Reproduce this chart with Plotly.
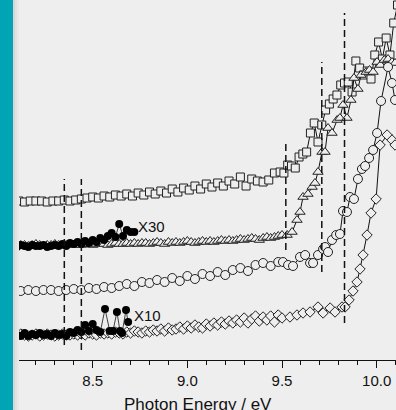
import plotly.graph_objects as go

# ---------------- data (signal in arbitrary units) ----------------
E_sq = [8.08, 8.11, 8.14, 8.17, 8.20, 8.23, 8.26, 8.29, 8.32, 8.35, 8.38, 8.41, 8.44, 8.47,
        8.50, 8.53, 8.56, 8.59, 8.62, 8.65, 8.68, 8.71, 8.74, 8.77, 8.80, 8.83, 8.86, 8.89,
        8.92, 8.95, 8.98, 9.01, 9.04, 9.07, 9.10, 9.13, 9.16, 9.19, 9.22, 9.25, 9.28, 9.31,
        9.34, 9.37, 9.40, 9.43, 9.46, 9.49,
        9.51, 9.53, 9.55, 9.57, 9.59, 9.61, 9.63, 9.65, 9.67, 9.69, 9.71, 9.73, 9.75, 9.77,
        9.79, 9.81, 9.83, 9.85, 9.87, 9.89, 9.91, 9.93, 9.95, 9.97, 9.99, 10.01, 10.03,
        10.05, 10.07, 10.09, 10.11]
sq_vals = [159, 159, 158, 159, 159, 159, 158, 159, 159, 160, 159, 160, 161, 162,
           163, 162, 164, 163, 165, 164, 166, 164, 167, 165, 168, 166, 169, 167,
           171, 168, 172, 170, 174, 171, 176, 173, 177, 174, 179, 176, 183, 174,
           181, 179, 178, 180, 187, 188,
           187, 195, 194, 192, 203, 206, 208, 227, 237, 218, 235, 250, 256, 261,
           265, 275, 277, 278, 268, 299, 292, 285, 289, 281, 305, 318, 301,
           322, 305, 337, 355]

E_tri = [8.08, 8.10, 8.12, 8.14, 8.16, 8.18, 8.20, 8.22, 8.24, 8.26, 8.28, 8.30, 8.32, 8.34,
         8.36, 8.38, 8.40, 8.42, 8.44, 8.46, 8.48, 8.50, 8.52, 8.54, 8.56, 8.58, 8.60, 8.62,
         8.64, 8.66, 8.68, 8.70, 8.72, 8.74, 8.76, 8.78, 8.80, 8.82, 8.84, 8.86, 8.88, 8.90,
         8.92, 8.94, 8.96, 8.98, 9.00, 9.02, 9.04, 9.06, 9.08, 9.10, 9.12, 9.14, 9.16, 9.18,
         9.20, 9.22, 9.24, 9.26, 9.28, 9.30, 9.32, 9.34, 9.36, 9.38, 9.40, 9.42, 9.44, 9.46,
         9.48, 9.50,
         9.527, 9.553, 9.579, 9.595, 9.611, 9.637, 9.659, 9.674, 9.690, 9.711, 9.727, 9.743,
         9.764, 9.791, 9.806, 9.822, 9.843, 9.864, 9.880, 9.901, 9.917, 9.944, 9.962, 9.981,
         10.002, 10.02, 10.04, 10.06, 10.081, 10.097]
tri_vals = [115, 114, 115, 115, 114, 115, 116, 115, 114, 115, 115, 116, 115, 114,
            115, 116, 115, 116, 115, 116, 116, 115, 116, 117, 116, 115, 116, 117,
            116, 116, 117, 116, 117, 116, 117, 117, 116, 117, 118, 117, 116, 118,
            117, 118, 117, 118, 119, 118, 117, 118, 119, 118, 119, 118, 119, 120,
            119, 120, 119, 120, 121, 120, 121, 122, 121, 120, 122, 123, 122, 123,
            124, 125,
            125, 128, 140, 148, 163, 166, 173, 177, 188, 208, 208, 232,
            227, 240, 242, 255, 242, 260, 282, 271, 285, 288, 290, 288,
            298, 295, 300, 301, 298, 297]

E_circ = [8.08, 8.12, 8.16, 8.20, 8.24, 8.28, 8.32, 8.36, 8.40, 8.44, 8.48, 8.52, 8.56, 8.60,
          8.64, 8.68, 8.72, 8.76, 8.80, 8.84, 8.88, 8.92, 8.96, 9.00, 9.04, 9.08, 9.12, 9.16,
          9.20, 9.24, 9.28, 9.32, 9.36, 9.40, 9.44, 9.48,
          9.505, 9.532, 9.558, 9.595, 9.622, 9.648, 9.664, 9.690, 9.717, 9.727, 9.743, 9.764,
          9.786, 9.806, 9.822, 9.843, 9.859, 9.880, 9.901, 9.922, 9.939, 9.960, 9.981, 10.002,
          10.023, 10.060, 10.081, 10.097]
circ_vals = [70, 69, 70, 69, 70, 70, 69, 70, 71, 70, 72, 71, 73, 72,
             74, 76, 74, 78, 77, 80, 78, 82, 79, 84, 81, 86, 84, 88,
             85, 90, 92, 89, 95, 97, 94, 98,
             98, 95, 94, 103, 105, 97, 97, 105, 111, 113, 108, 120,
             125, 126, 149, 148, 163, 161, 181, 191, 194, 202, 210, 227,
             259, 293, 277, 260]

E_dia = [8.08, 8.10, 8.12, 8.14, 8.16, 8.18, 8.20, 8.22, 8.24, 8.26, 8.28, 8.30, 8.32, 8.34,
         8.36, 8.38, 8.40, 8.42, 8.44, 8.46, 8.48, 8.50, 8.52, 8.54, 8.56, 8.58, 8.60, 8.62,
         8.64, 8.66, 8.68, 8.70, 8.72, 8.74, 8.76, 8.78, 8.80, 8.82, 8.84, 8.86, 8.88, 8.90,
         8.92, 8.94, 8.96, 8.98, 9.00, 9.02, 9.04, 9.06, 9.08, 9.10, 9.12, 9.14, 9.16, 9.18,
         9.20, 9.22, 9.24, 9.26, 9.28, 9.30, 9.32, 9.34, 9.36, 9.38, 9.40, 9.42, 9.44, 9.46,
         9.48, 9.50,
         9.542, 9.579, 9.611, 9.648, 9.690, 9.717, 9.754, 9.780, 9.817, 9.833, 9.854, 9.875,
         9.896, 9.912, 9.928, 9.949, 9.970, 9.997, 10.018, 10.055, 10.081, 10.097]
dia_vals = [25, 24, 26, 25, 24, 25, 26, 24, 25, 26, 25, 24, 25, 26, 25, 25,
            26, 25, 26, 25, 27, 26, 25, 27, 26, 27, 26, 28, 27, 26, 28, 27, 29, 28, 27, 29,
            28, 30, 29, 31, 29, 32, 30, 31, 33, 31, 34, 32, 35, 33, 32, 36, 34, 37, 35, 38,
            36, 39, 37, 40, 38, 42, 37, 41, 44, 39, 43, 40, 44, 38, 45, 42,
            43, 45, 47, 48, 53, 47, 52, 48, 53, 53, 60, 69,
            78, 91, 105, 125, 147, 161, 215, 225, 220, 215]

# magnified (filled) curves
E_x30 = [8.08, 8.10, 8.12, 8.14, 8.16, 8.18, 8.20, 8.22, 8.24, 8.26, 8.28, 8.30, 8.32, 8.34,
         8.36, 8.38, 8.40, 8.42, 8.44, 8.46, 8.48, 8.50, 8.52, 8.54, 8.56, 8.58, 8.60, 8.62,
         8.64, 8.66, 8.68, 8.70, 8.72]
x30_vals = [114, 113, 115, 114, 113, 115, 114, 114, 115, 113, 114, 115, 114, 116,
            114, 117, 116, 118, 116, 119, 117, 120, 118, 122, 120, 124, 127, 123,
            136, 124, 130, 128, 128]

E_x10 = [8.08, 8.10, 8.12, 8.14, 8.16, 8.18, 8.20, 8.22, 8.24, 8.26, 8.28, 8.30, 8.32, 8.34,
         8.36, 8.38, 8.40, 8.42, 8.44, 8.46, 8.48, 8.50, 8.52, 8.54,
         8.565, 8.59, 8.607, 8.628, 8.644, 8.655, 8.676, 8.687]
x10_vals = [28, 25, 24, 27, 24, 26, 25, 27, 25, 26, 24, 27, 25, 26, 24, 28, 27, 30, 28, 35,
            29, 36, 30, 28,
            51, 29, 29, 48, 29, 27, 50, 38]

# onset markers (dashed lines)
onset_E = [8.35, 8.44, 9.52, 9.71, 9.83]
onset_top = [181, 181, 217, 298, 347]
onset_bottom = [15, 10, 110, 88, 37]

labels = ["X30", "X10"]
label_E = [8.808, 8.787]
label_val = [134, 45]

tick_vals = [8.5, 9.0, 9.5, 10.0]
tick_text = ["8.5", "9.0", "9.5", "10.0"]
x_title = "Photon Energy / eV"

# ---------------- figure ----------------
BG = "#eeeeee"
fig = go.Figure()

def open_series(E, v, symbol, size):
    fig.add_trace(go.Scatter(
        x=E, y=v, mode="lines+markers",
        line=dict(color="#111111", width=1),
        marker=dict(symbol=symbol, size=size, color=BG,
                    line=dict(color="#222222", width=1)),
        showlegend=False, hoverinfo="skip"))

open_series(E_sq, sq_vals, "square", 8)
open_series(E_tri, tri_vals, "triangle-up", 9)
open_series(E_circ, circ_vals, "circle", 9)
open_series(E_dia, dia_vals, "diamond", 8)

for E, v in [(E_x30, x30_vals), (E_x10, x10_vals)]:
    fig.add_trace(go.Scatter(
        x=E, y=v, mode="lines+markers",
        line=dict(color="#111111", width=0.8),
        marker=dict(symbol="circle", size=8, color="#000000"),
        showlegend=False, hoverinfo="skip"))

for e, top, bot in zip(onset_E, onset_top, onset_bottom):
    fig.add_trace(go.Scatter(
        x=[e, e], y=[bot, top], mode="lines",
        line=dict(color="#111111", width=1.5, dash="7px,4px"),
        showlegend=False, hoverinfo="skip"))

for t, e, v in zip(labels, label_E, label_val):
    fig.add_annotation(x=e, y=v, text=t, showarrow=False,
                       font=dict(family="Liberation Sans, Arial", size=15, color="#111111"))

# x-axis title (placed low, partly cut by the frame like the reference)
fig.add_annotation(xref="paper", yref="paper", x=0.501, y=-0.0917,
                   xanchor="center", yanchor="top", text=x_title, showarrow=False,
                   font=dict(family="Liberation Sans, Arial", size=17, color="#111111"))

# left teal band with soft shadow
W = 396.0
fig.add_shape(type="rect", xref="paper", yref="paper", x0=13 / W, x1=15 / W,
              y0=-0.3, y1=1.1, fillcolor="#d6d6d6", line_width=0, layer="above")
fig.add_shape(type="rect", xref="paper", yref="paper", x0=15 / W, x1=17 / W,
              y0=-0.3, y1=1.1, fillcolor="#e0e0e0", line_width=0, layer="above")
fig.add_shape(type="rect", xref="paper", yref="paper", x0=17 / W, x1=19 / W,
              y0=-0.3, y1=1.1, fillcolor="#e8e8e8", line_width=0, layer="above")
fig.add_shape(type="rect", xref="paper", yref="paper", x0=0, x1=13 / W,
              y0=-0.3, y1=1.1, fillcolor="#01a4b4", line_width=0, layer="above")

fig.update_layout(
    width=396, height=410,
    margin=dict(l=0, r=0, t=0, b=50, autoexpand=False),
    paper_bgcolor=BG, plot_bgcolor=BG,
    font=dict(family="Liberation Sans, Arial", color="#111111"),
    xaxis=dict(range=[8.0103, 10.102], showline=True, linecolor="#111111", linewidth=1,
               automargin=False,
               ticks="outside", ticklen=7, tickwidth=1, tickcolor="#111111",
               tickvals=tick_vals, ticktext=tick_text, tickfont=dict(size=15),
               minor=dict(dtick=0.1, tick0=8.0, ticks="outside", ticklen=4,
                          tickwidth=1, tickcolor="#111111"),
               showgrid=False, zeroline=False),
    yaxis=dict(visible=False, range=[0, 360], automargin=False),
)

fig.write_html(
    "out.html",
    config={"displayModeBar": False, "staticPlot": True},
    post_script="document.body.style.margin='0';document.body.style.padding='0';"
                "document.body.style.overflow='hidden';"
                "document.documentElement.style.overflow='hidden';",
)
